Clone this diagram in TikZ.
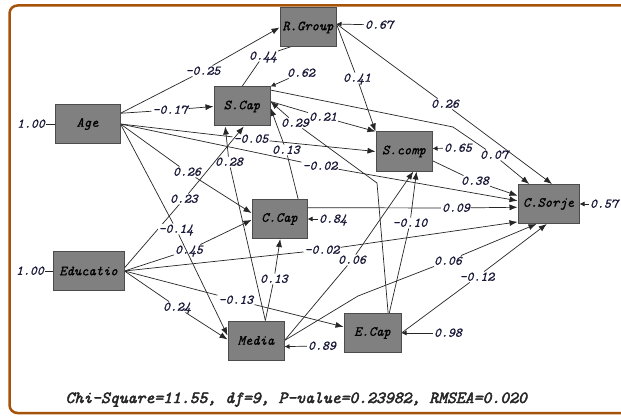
\documentclass[tikz,border=0pt]{standalone}
\usepackage{fontspec}
\usepackage{tikz}
\usetikzlibrary{arrows.meta,backgrounds}
\newfontfamily\lisrel{lmmono10-italic.otf}[FakeBold=0.9]
\newfontfamily\lisrelbold{lmmono10-italic.otf}[FakeBold=2.6]
\definecolor{framebrown}{RGB}{166,82,8}
\definecolor{boxgray}{RGB}{128,128,128}
\definecolor{coefblue}{RGB}{24,24,56}

\begin{document}
\begin{tikzpicture}[x=1pt,y=-1pt,
  var/.style={draw=black!70,fill=boxgray,line width=1pt,minimum height=39pt,inner sep=0pt,font=\lisrel\fontsize{13.9}{14}\selectfont},
  lab/.style={inner sep=1pt,text height=8pt,text depth=0.5pt,text=coefblue,font=\lisrel\fontsize{13.2}{13.2}\selectfont},
  link/.style={draw=black!85,line width=0.7pt,-{Latex[length=8pt,width=6pt]}},
  err/.style={draw=black!85,line width=0.7pt,-{Latex[length=5pt,width=5pt]}}]
\useasboundingbox (0,0) rectangle (621,417);
\clip (0,0) rectangle (621,417);
\draw[framebrown,line width=2.5pt,rounded corners=8pt] (9.5,5.5) rectangle (640,413);

% variables
\node[var,minimum width=56pt] (RGroup) at (308,27.5) {R.Group};
\node[var,minimum width=56pt] (SCap) at (242,106.5) {S.Cap};
\node[var,minimum width=56pt] (SComp) at (404,151.5) {S.comp};
\node[var,minimum width=61pt] (CSorje) at (548.5,204) {C.Sorje};
\node[var,minimum width=65pt] (Age) at (87.5,124) {Age};
\node[var,minimum width=55pt] (CCap) at (279.5,219) {C.Cap};
\node[var,minimum width=71pt] (Educ) at (88.5,271) {Educatio};
\node[var,minimum width=56pt] (Media) at (256,340.5) {Media};
\node[var,minimum width=57pt] (ECap) at (372.5,333) {E.Cap};

% error terms
\node[lab] (eAge) at (31,124) {1.00};
\node[lab] (eEduc) at (30,271) {1.00};
\node[lab] (e067) at (379,25) {0.67};
\node[lab] (e062) at (301,73) {0.62};
\node[lab] (e065) at (458,148) {0.65};
\node[lab] (e057) at (604,204) {0.57};
\node[lab] (e084) at (333,219) {0.84};
\node[lab] (e089) at (322,346) {0.89};
\node[lab] (e098) at (448,333) {0.98};

% coefficients
\node[lab] (c025) at (203,71) {-0.25};
\node[lab] (c017) at (170,110) {-0.17};
\node[lab] (c005) at (251,139) {-0.05};
\node[lab] (c026a) at (187,172) {0.26};
\node[lab] (c002a) at (320,166) {-0.02};
\node[lab,fill=white] (c014) at (176,229) {-0.14};
\node[lab] (c044) at (263,56) {0.44};
\node[lab] (c041) at (357,78) {0.41};
\node[lab] (c026b) at (445,104) {0.26};
\node[lab] (c021) at (323,117) {0.21};
\node[lab] (c029) at (295,123) {0.29};
\node[lab] (c013a) at (286,150) {0.13};
\node[lab] (c007) at (494,155) {0.07};
\node[lab] (c038) at (475,181) {0.38};
\node[lab] (c028) at (229,162) {0.28};
\node[lab] (c023) at (184,199) {0.23};
\node[lab] (c045) at (189,250) {0.45};
\node[lab] (c024) at (177,307) {0.24};
\node[lab] (c013c) at (236,300) {-0.13};
\node[lab] (c013b) at (274,279) {0.13};
\node[lab] (c009) at (456,208) {0.09};
\node[lab] (c002b) at (322,250) {-0.02};
\node[lab] (c006a) at (352,260) {0.06};
\node[lab] (c010) at (410,223) {-0.10};
\node[lab] (c006b) at (448,261) {0.06};
\node[lab] (c012) at (477,277) {-0.12};

\node[anchor=base west,text=black!85,font=\lisrelbold\fontsize{16.9}{17}\selectfont] (fit) at (62,403) {Chi-Square=11.55, df=9, P-value=0.23982, RMSEA=0.020};

\begin{scope}[on background layer]
\fill[white] (0,0) rectangle (621,417);
% residuals
\draw[draw=black!85,line width=0.7pt] (eAge) -- (Age);
\draw[draw=black!85,line width=0.7pt] (eEduc) -- (Educ);
\draw[err] (e067) -- (RGroup.7);
\draw[err] (e062) -- (SCap.north east);
\draw[err] (e065) -- (SComp.6);
\draw[err] (e057) -- (CSorje.east);
\draw[err] (e084) -- (CCap.east);
\draw[err] (e089) -- (Media.-12);
\draw[err] (e098) -- (ECap.east);

% paths
\draw[link] (Age.18) -- (c025) -- (RGroup.west);
\draw[link] (Age.18) -- (c017) -- (SCap.west);
\draw[link] (Age.east) -- (c005) -- (SComp.west);
\draw[link] (Age.east) -- (c026a) -- (CCap.168);
\draw[link] (Age.east) -- (c002a) -- (CSorje.174);
\draw[link] (Age.east) -- (c014) -- (Media.170);
\draw[link] (SCap.north) -- (c044) -- (RGroup.-8);
\draw[link] (SCap.10) -- (c021) -- (SComp.north west);
\draw[link] (SCap.30) -- (453,127) -- (c007) -- (CSorje.134);
\draw[link] (RGroup.7) -- (c041) -- (SComp.north west);
\draw[link] (RGroup.7) -- (c026b) -- (CSorje.80);
\draw[link] (SComp.-18) -- (c038) -- (CSorje.165);
\draw[link] (CCap.47) -- (c013a) -- (SCap.-3);
\draw[link] (CCap.22) -- (c009) -- (CSorje.186);
\draw[link] (Educ.5) -- (c023) -- (SCap.-85);
\draw[link] (Educ.east) -- (c045) -- (CCap.182);
\draw[link] (Educ.east) -- (c002b) -- (CSorje.210);
\draw[link] (Educ.east) -- (c013c) -- (ECap.168);
\draw[link] (Educ.east) -- (c024) -- (Media.178);
\draw[link] (Media.65) -- (c028) -- (SCap.230);
\draw[link] (Media.65) -- (c013b) -- (CCap.-88);
\draw[link] (Media.east) -- (c006a) -- (SComp.-65);
\draw[link] (Media.east) -- (358,296) -- (c006b) -- (CSorje.239);
\draw[link] (ECap.52) -- (377,183) -- (c029) -- (SCap.10);
\draw[link] (ECap.50) -- (c010) -- (SComp.-58);
\draw[link] (ECap.east) -- (c012) -- (CSorje.265);
\end{scope}
\end{tikzpicture}
\end{document}
